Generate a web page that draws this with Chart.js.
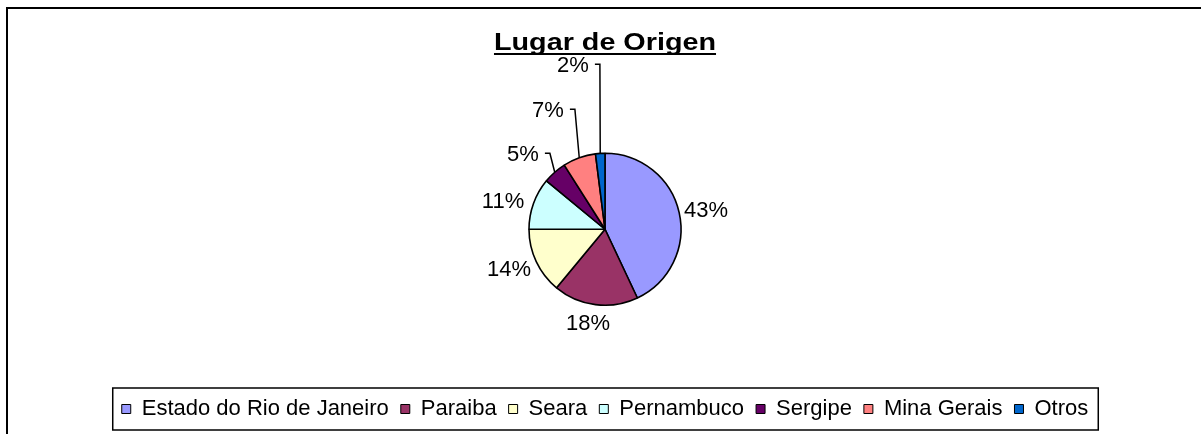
<!DOCTYPE html>
<html>
<head>
<meta charset="utf-8">
<script src="https://cdn.jsdelivr.net/npm/chart.js@4.4.0/dist/chart.umd.min.js"></script>
<style>
  html, body { margin: 0; padding: 0; background: #ffffff; }
  #wrap { position: relative; width: 1201px; height: 434px; }
</style>
</head>
<body>
<div id="wrap"><canvas id="c" width="1201" height="434"></canvas></div>
<script>
// ---- data ----
const TITLE = 'Lugar de Origen';
const CATEGORIES = ['Estado do Rio de Janeiro', 'Paraiba', 'Seara', 'Pernambuco', 'Sergipe', 'Mina Gerais', 'Otros'];
const VALUES = [43, 18, 14, 11, 5, 7, 2];
const COLORS = ['#9999FF', '#993366', '#FFFFCC', '#CCFFFF', '#660066', '#FF8080', '#0066CC'];

// ---- label placement (style): label centre offset from pie centre, and whether a leader line is drawn ----
const LABEL_OFFSETS = [[101, -18], [-17, 95], [-96, 41], [-102, -27], [-82, -74], [-57, -118], [-32, -163]];
const LABEL_LEADER = [false, false, false, false, true, true, true];

const FONT = '"Liberation Sans", Arial, sans-serif';

const decorPlugin = {
  id: 'decor',
  afterDraw(chart) {
    const ctx = chart.ctx;
    ctx.save();
    // outer frame (continues beyond the photographed area)
    ctx.strokeStyle = '#000';
    ctx.lineWidth = 2;
    ctx.beginPath();
    ctx.moveTo(7, 434);
    ctx.lineTo(7, 8);
    ctx.lineTo(1201, 8);
    ctx.stroke();

    // title, bold + underlined (text is drawn horizontally widened like the original)
    const meta = chart.getDatasetMeta(0);
    const cx = meta.data[0].x;
    const sx = 1.25;
    ctx.font = 'bold 23px ' + FONT;
    ctx.fillStyle = '#000';
    ctx.textAlign = 'center';
    ctx.textBaseline = 'alphabetic';
    const tw = ctx.measureText(TITLE).width * sx;
    ctx.save();
    ctx.translate(cx, 50);
    ctx.scale(sx, 1);
    ctx.fillText(TITLE, 0, 0);
    ctx.restore();
    ctx.lineWidth = 2;
    ctx.beginPath();
    ctx.moveTo(cx - tw / 2, 54);
    ctx.lineTo(cx + tw / 2, 54);
    ctx.stroke();

    // data labels
    const total = VALUES.reduce((a, b) => a + b, 0);
    ctx.font = '22px ' + FONT;
    ctx.textAlign = 'center';
    ctx.textBaseline = 'middle';
    ctx.lineWidth = 1.5;
    meta.data.forEach((arc, i) => {
      const txt = Math.round(VALUES[i] / total * 100) + '%';
      const lx = arc.x + LABEL_OFFSETS[i][0];
      const ly = arc.y + LABEL_OFFSETS[i][1];
      ctx.fillStyle = '#000';
      ctx.fillText(txt, lx, ly);
      if (LABEL_LEADER[i]) {
        const w = ctx.measureText(txt).width;
        const mid = (arc.startAngle + arc.endAngle) / 2;
        const ex = arc.x + Math.cos(mid) * arc.outerRadius;
        const ey = arc.y + Math.sin(mid) * arc.outerRadius;
        const tx = lx + w / 2 + 6;
        const ty = ly - 2;
        ctx.beginPath();
        ctx.moveTo(tx, ty);
        ctx.lineTo(tx + 5, ty);
        ctx.lineTo(ex, ey);
        ctx.stroke();
      }
    });

    // legend border
    const hb = chart.legend.legendHitBoxes;
    if (hb && hb.length) {
      const first = hb[0], last = hb[hb.length - 1];
      const left = first.left - 9;
      const right = last.left + last.width + 10;
      const midY = first.top + first.height / 2;
      ctx.lineWidth = 1.5;
      ctx.strokeRect(left, midY - 21, right - left, 42);
    }
    ctx.restore();
  }
};

new Chart(document.getElementById('c'), {
  type: 'pie',
  data: {
    labels: CATEGORIES,
    datasets: [{
      data: VALUES,
      backgroundColor: COLORS,
      borderColor: '#000000',
      borderWidth: 1.6
    }]
  },
  options: {
    responsive: false,
    animation: false,
    events: [],
    radius: 76,
    layout: { padding: { left: 9, right: 0, top: 72.5, bottom: 4 } },
    plugins: {
      title: { display: false },
      tooltip: { enabled: false },
      legend: {
        display: true,
        position: 'bottom',
        align: 'center',
        labels: {
          boxWidth: 9,
          boxHeight: 9,
          padding: 12,
          color: '#000',
          font: { family: FONT, size: 22 },
          generateLabels(chart) {
            const ds = chart.data.datasets[0];
            return chart.data.labels.map((l, i) => ({
              text: l,
              fillStyle: ds.backgroundColor[i],
              strokeStyle: '#000',
              lineWidth: 1,
              hidden: false,
              index: i
            }));
          }
        }
      }
    }
  },
  plugins: [decorPlugin]
});
</script>
</body>
</html>
